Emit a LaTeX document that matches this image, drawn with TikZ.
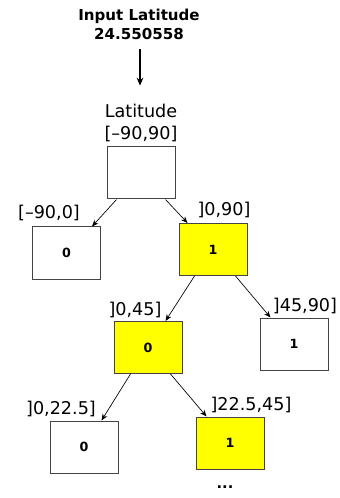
\documentclass[tikz,border=0pt]{standalone}
\usepackage{fontspec}
\setmainfont{DejaVu Sans}
\usetikzlibrary{calc,arrows.meta}
\definecolor{hiyellow}{HTML}{FFFF00}
\definecolor{boxline}{HTML}{444444}
\tikzset{
  bitbox/.style={draw=boxline, line width=0.75pt, minimum width=51pt, minimum height=39pt, inner sep=0pt, font=\fontsize{9.5pt}{10pt}\selectfont\bfseries},
  hibox/.style={bitbox, fill=hiyellow},
  rangelbl/.style={anchor=base, inner sep=0pt, font=\fontsize{13.2pt}{15pt}\selectfont},
  toplbl/.style={anchor=base, inner sep=0pt, font=\fontsize{11.3pt}{14pt}\selectfont\bfseries},
  thinarrow/.style={-{Stealth[length=5pt,width=4pt]}, line width=0.5pt},
  bigarrow/.style={-{Stealth[length=6pt,width=5pt]}, line width=1.4pt}
}
\begin{document}
\begin{tikzpicture}[x=0.75pt,y=-0.75pt]
\useasboundingbox (0,0) rectangle (339,498);
% top
\node[toplbl] (in1) at (139,21) {Input Latitude};
\node[toplbl] (in2) at (139,40) {24.550558};
\node[rangelbl] (lat) at (141,118) {Latitude};
\node[rangelbl] (latr) at (141,140) {[–90,90]};
\draw[bigarrow, shorten <=6.75pt, shorten >=14pt] (in2.south -| 140,0) -- (lat.north -| 140,0);
% boxes
\node[bitbox] (root) at (141,173) {};
\node[bitbox] (l0) at (66.5,253) {0};
\node[hibox] (r1) at (213,249.5) {1};
\node[hibox] (r1l) at (148,347.5) {0};
\node[bitbox] (r1r) at (294,344) {1};
\node[bitbox] (ll) at (84,447) {0};
\node[hibox] (lr) at (230,443) {1};
% range labels
\node[rangelbl] (lbl0) at (49,219) {[–90,0]};
\node[rangelbl] (lbl1) at (224,216) {]0,90]};
\node[rangelbl] (lbl10) at (135,315) {]0,45]};
\node[rangelbl] (lbl11) at (305,311) {]45,90]};
\node[rangelbl] (lbl100) at (61,414) {]0,22.5]};
\node[rangelbl] (lbl101) at (251,410) {]22.5,45]};
\node[inner sep=0pt, font=\fontsize{11pt}{12pt}\selectfont\bfseries] (dots) at (225,487) {...};
% connectors
\draw[thinarrow] ($(root.south west)+(10,0)$) -- ($(l0.north east)+(-9,0)$);
\draw[thinarrow] ($(root.south east)+(-10,0)$) -- ($(r1.north west)+(9,0)$);
\draw[thinarrow] ($(r1.south west)+(16,0)$) -- ($(r1l.north east)+(-17,0)$);
\draw[thinarrow] ($(r1.south east)+(-12,0)$) -- ($(r1r.north west)+(11,0)$);
\draw[thinarrow] ($(r1l.south west)+(17,0)$) -- ($(ll.north east)+(-17,0)$);
\draw[thinarrow] ($(r1l.south east)+(-12,0)$) -- ($(lr.north west)+(11,0)$);
\end{tikzpicture}
\end{document}
